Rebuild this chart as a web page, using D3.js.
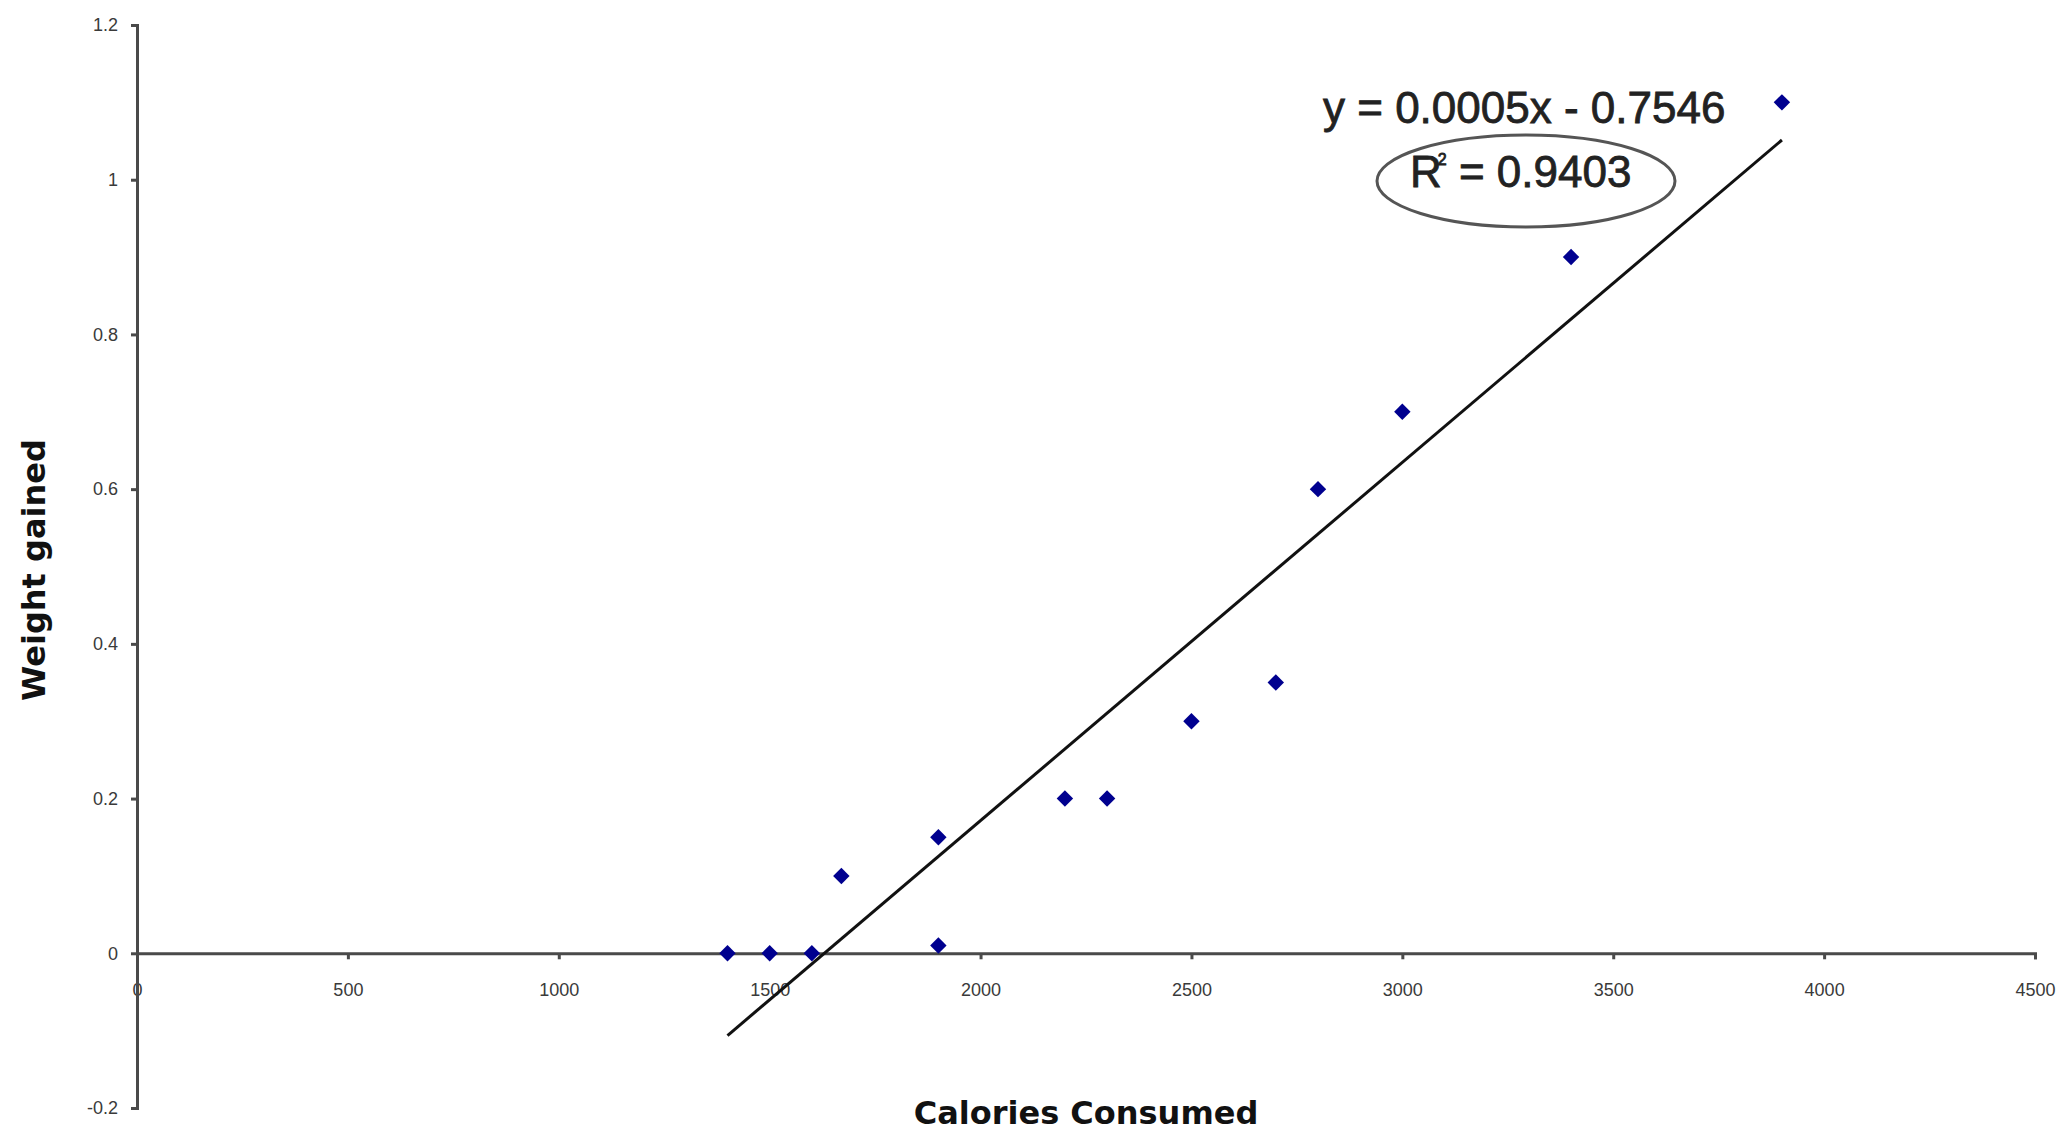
<!DOCTYPE html>
<meta charset="utf-8">
<title>Weight gained vs Calories Consumed</title>
<style>
  body { margin: 0; background: white; }
  svg { display: block; background: white; }
  .tick text { font-family: Arial, 'Liberation Sans', sans-serif; font-size: 18px; fill: #3a3a3a; }
  .axis path, .axis line { stroke: #4a4a4a; stroke-width: 3px; }
  .title { font-family: 'DejaVu Sans', Verdana, sans-serif; font-weight: bold; font-size: 32px; fill: #111; }
  .eq { font-family: Arial, 'Liberation Sans', sans-serif; font-size: 44px; fill: #222; stroke: #222; stroke-width: 0.8px; }
</style>
<body>
<div id="chart"></div>
<script src="https://d3js.org/d3.v7.min.js"></script>
<script>

// data
var calories = [1400, 1500, 1600, 1670, 1900, 1900, 2200, 2300, 2500, 2700, 2800, 3000, 3400, 3900];
var weight   = [0,    0,    0,    0.1,  0.15, 0.01, 0.2,  0.2,  0.3,  0.35, 0.6,  0.7,  0.9,  1.1];
var xTicks = [0, 500, 1000, 1500, 2000, 2500, 3000, 3500, 4000, 4500];
var yTicks = [-0.2, 0, 0.2, 0.4, 0.6, 0.8, 1, 1.2];
var eqLabel = "y = 0.0005x - 0.7546";
var r2Value = "0.9403";

var width = 2065, height = 1132;

var svg = d3.select("#chart").append("svg")
    .attr("width", width)
    .attr("height", height);

var x = d3.scaleLinear().domain([0, 4500]).range([137, 2035]);
var y = d3.scaleLinear().domain([-0.2, 1.2]).range([1108, 25]);

// x axis sits on y = 0
svg.append("g")
    .attr("class", "axis")
    .attr("transform", "translate(0," + y(0) + ")")
    .call(d3.axisBottom(x).tickValues(xTicks).tickSize(6).tickPadding(24)
      .tickFormat(d3.format("d")));

svg.append("g")
    .attr("class", "axis")
    .attr("transform", "translate(" + x(0) + ",0)")
    .call(d3.axisLeft(y).tickValues(yTicks).tickSize(6).tickPadding(13)
      .tickFormat(function(d) { return String(d); }));

// least squares trend line
var n = calories.length;
var mx = d3.mean(calories), my = d3.mean(weight);
var sxy = 0, sxx = 0;
for (var i = 0; i < n; i++) {
  sxy += (calories[i] - mx) * (weight[i] - my);
  sxx += (calories[i] - mx) * (calories[i] - mx);
}
var slope = sxy / sxx, icpt = my - slope * mx;
var ends = d3.extent(calories);

svg.append("path")
    .datum(ends)
    .attr("d", d3.line()
      .x(function(d) { return x(d); })
      .y(function(d) { return y(slope * d + icpt); }))
    .attr("stroke", "#111")
    .attr("stroke-width", 3)
    .attr("fill", "none");

// points
svg.selectAll("path.pt")
  .data(d3.range(n))
  .enter().append("path")
    .attr("class", "pt")
    .attr("d", d3.symbol().type(d3.symbolSquare).size(135))
    .attr("transform", function(i) {
      return "translate(" + x(calories[i]) + "," + y(weight[i]) + ") rotate(45)";
    })
    .attr("fill", "#00008f");

// annotation
svg.append("text")
    .attr("class", "eq")
    .attr("x", 1323).attr("y", 123)
    .text(eqLabel);

var r2 = svg.append("text")
    .attr("class", "eq")
    .attr("x", 1410).attr("y", 187);
r2.append("tspan").text("R");
r2.append("tspan").attr("font-size", 16).attr("dy", -22).attr("dx", -4).text("2");
r2.append("tspan").attr("dy", 22).text(" = " + r2Value);

svg.append("ellipse")
    .attr("cx", 1526).attr("cy", 181)
    .attr("rx", 149).attr("ry", 46)
    .attr("fill", "none")
    .attr("stroke", "#555")
    .attr("stroke-width", 3);

// axis titles
svg.append("text")
    .attr("class", "title")
    .attr("text-anchor", "middle")
    .attr("x", 1086).attr("y", 1124)
    .text("Calories Consumed");

svg.append("text")
    .attr("class", "title")
    .attr("text-anchor", "middle")
    .attr("transform", "translate(45,570) rotate(-90)")
    .text("Weight gained");

</script>
</body>
